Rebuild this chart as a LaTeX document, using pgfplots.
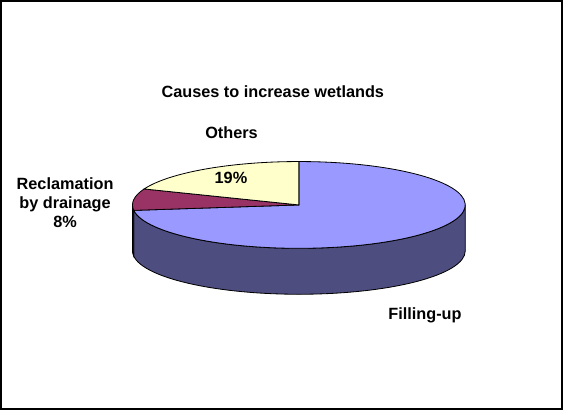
\documentclass[border=0pt]{standalone}
\usepackage{pgfplots}
\pgfplotsset{compat=1.18}
\usepackage{pgfplotstable}
\usepackage{fontspec}
\setmainfont{Liberation Sans}

\definecolor{fillTop}{RGB}{153,153,255}
\definecolor{fillSide}{RGB}{77,77,128}
\definecolor{reclTop}{RGB}{153,51,102}
\definecolor{reclSide}{RGB}{77,26,51}
\definecolor{othTop}{RGB}{255,255,204}

\newcommand\lbl{\fontsize{16}{18.5}\selectfont\bfseries}

% shares of each cause, in percent
\pgfplotstableread{
cause value
Filling-up 73
Reclamation 8
Others 19
}\causes

\begin{document}
\begin{tikzpicture}
\pgfplotstablegetelem{0}{value}\of\causes \let\vFill\pgfplotsretval
\pgfplotstablegetelem{1}{value}\of\causes \let\vRecl\pgfplotsretval
\pgfplotstablegetelem{2}{value}\of\causes \let\vOth\pgfplotsretval
% slices run clockwise from 12 o'clock
\pgfmathsetmacro\aFill{90-3.6*\vFill}
\pgfmathsetmacro\aRecl{\aFill-3.6*\vRecl}
\pgfmathsetmacro\aOth{\aRecl-3.6*\vOth}
% pie centre, radii of the tilted disc and its thickness
\def\cx{299}\def\cy{202}\def\rx{163}\def\ry{42.5}\def\dep{45}
\begin{axis}[
  scale only axis, width=563bp, height=407bp,
  xmin=0, xmax=563, ymin=0, ymax=407,
  hide axis, clip=false,
]
% side walls (front half only)
\filldraw[fill=fillSide, draw=black, line width=0.8bp]
  ({\cx+\rx*cos(\aFill)},{\cy+\ry*sin(\aFill)})
  arc[start angle=\aFill, end angle=0, x radius={\rx*1bp}, y radius={\ry*1bp}]
  -- ++(0,-\dep bp)
  arc[start angle=0, end angle=\aFill, x radius={\rx*1bp}, y radius={\ry*1bp}]
  -- cycle;
\filldraw[fill=reclSide, draw=black, line width=0.8bp]
  ({\cx-\rx},{\cy})
  arc[start angle=-180, end angle=\aFill, x radius={\rx*1bp}, y radius={\ry*1bp}]
  -- ++(0,-\dep bp)
  arc[start angle=\aFill, end angle=-180, x radius={\rx*1bp}, y radius={\ry*1bp}]
  -- cycle;
% top faces
\filldraw[fill=fillTop, draw=black, line width=0.8bp]
  (\cx,\cy) -- ({\cx+\rx*cos(\aFill)},{\cy+\ry*sin(\aFill)})
  arc[start angle=\aFill, end angle=90, x radius={\rx*1bp}, y radius={\ry*1bp}]
  -- cycle;
\filldraw[fill=reclTop, draw=black, line width=0.8bp]
  (\cx,\cy) -- ({\cx+\rx*cos(\aRecl)},{\cy+\ry*sin(\aRecl)})
  arc[start angle=\aRecl, end angle=\aFill, x radius={\rx*1bp}, y radius={\ry*1bp}]
  -- cycle;
\filldraw[fill=othTop, draw=black, line width=0.8bp]
  (\cx,\cy) -- ({\cx+\rx*cos(\aOth)},{\cy+\ry*sin(\aOth)})
  arc[start angle=\aOth, end angle=\aRecl, x radius={\rx*1bp}, y radius={\ry*1bp}]
  -- cycle;
% labels
\node[font=\lbl, inner sep=0pt] at (273.5,313) {Causes to increase wetlands};
\node[font=\lbl, inner sep=0pt] at (233,273) {Others};
\node[font=\lbl, inner sep=0pt] at (232.5,228) {\vOth\%};
\node[font=\lbl, inner sep=0pt, align=center] at (70,204) {Reclamation\\by drainage\\\vRecl\%};
\node[font=\lbl, inner sep=0pt] at (422.5,94) {Filling-up};
% chart frame
\draw[line width=1.5bp] (7,2) rectangle (557,402);
\end{axis}
\end{tikzpicture}
\end{document}
